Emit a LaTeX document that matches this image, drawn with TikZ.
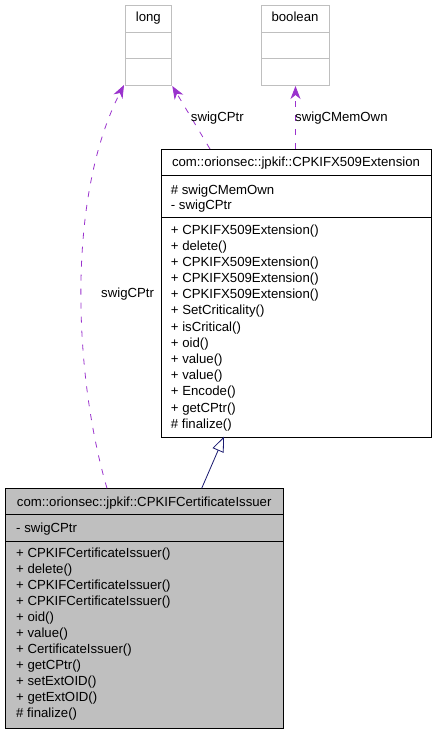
\documentclass[tikz,border=0pt]{standalone}
\usepackage{fontspec}
\setmainfont{Liberation Sans}
\usetikzlibrary{arrows.meta}
\definecolor{usecol}{HTML}{9A32CD}
\definecolor{inhcol}{HTML}{191970}
\definecolor{lightbd}{HTML}{BFBFBF}
\definecolor{issfill}{HTML}{BFBFBF}
\begin{document}
\begin{tikzpicture}[x=1pt,y=-1pt,
  every node/.style={font=\fontsize{13.2}{16}\selectfont},
  txt/.style={inner sep=0pt,anchor=base west},
  ctxt/.style={inner sep=0pt,anchor=base},
  boxa/.style={draw=lightbd,line width=1pt,anchor=north west,inner sep=0pt},
  boxb/.style={draw=black,line width=1pt,anchor=north west,inner sep=0pt},
  usage/.style={draw=usecol,line width=0.8pt,dash pattern=on 6pt off 8pt,
    -{Stealth[length=13pt,width=10pt,inset=4pt,fill=usecol]}},
  inherit/.style={draw=inhcol,line width=0.8pt,
    -{Triangle[open,length=15pt,width=12pt,fill=white]}}
]
\useasboundingbox (0,0) rectangle (435,733);
\fill[white] (0,0) rectangle (435,733);

% long
\node[boxa,minimum width=46pt,minimum height=79.7pt] (long) at (125.3,5.3) {};
\draw[lightbd,line width=1pt] (125.3,32.3) -- (171.3,32.3) (125.3,58.3) -- (171.3,58.3);
\node[ctxt] (longt) at (148.3,21.7) {long};

% boolean
\node[boxa,minimum width=67.4pt,minimum height=79.7pt] (bool) at (261.3,5.3) {};
\draw[lightbd,line width=1pt] (261.3,32.3) -- (328.7,32.3) (261.3,58.3) -- (328.7,58.3);
\node[ctxt] (boolt) at (295,21.7) {boolean};

% extension
\node[boxb,minimum width=270pt,minimum height=287.7pt] (ext) at (161,149) {};
\draw[line width=1pt] (161,175) -- (431,175) (161,217) -- (431,217);
\node[ctxt] (extt) at (296,166) {com::orionsec::jpkif::CPKIFX509Extension};
\node[txt] (ea1) at (170.7,194) {\# swigCMemOwn};
\node[txt] (ea2) at (170.7,209.3) {- swigCPtr};
\foreach \t [count=\i from 0] in {+ CPKIFX509Extension(),+ delete(),+ CPKIFX509Extension(),+ CPKIFX509Extension(),+ CPKIFX509Extension(),+ SetCriticality(),+ isCritical(),+ oid(),+ value(),+ value(),+ Encode(),+ getCPtr(),\# finalize()}
  \node[txt] (em\i) at (170.7,234+16.19*\i) {\t};

% issuer
\node[boxb,fill=issfill,minimum width=278.3pt,minimum height=240pt] (iss) at (5,488.3) {};
\draw[line width=1pt] (5,514) -- (283.3,514) (5,541) -- (283.3,541);
\node[ctxt] (isst) at (144.2,506.7) {com::orionsec::jpkif::CPKIFCertificateIssuer};
\node[txt] (ia1) at (16,532.7) {- swigCPtr};
\foreach \t [count=\i from 0] in {+ CPKIFCertificateIssuer(),+ delete(),+ CPKIFCertificateIssuer(),+ CPKIFCertificateIssuer(),+ oid(),+ value(),+ CertificateIssuer(),+ getCPtr(),+ setExtOID(),+ getExtOID(),\# finalize()}
  \node[txt] (im\i) at (16,557.3+16*\i) {\t};

% connectors
\coordinate (issL) at (107,488.3);
\coordinate (issR) at (201.7,488.3);
\coordinate (extA) at (210,149);
\coordinate (extB) at (224,436.7);
\coordinate (longL) at (124,85);

\draw[usage] (issL) .. controls (75,380) and (65,200) .. (longL);
\draw[usage] (extA) -- (long.south east);
\draw[usage] (bool.south |- ext.north) -- (bool.south);
\draw[inherit] (issR) -- (extB);

% labels
\node[txt] (l1) at (101,297.3) {swigCPtr};
\node[txt] (l2) at (190.7,121.7) {swigCPtr};
\node[txt] (l3) at (295,121.7) {swigCMemOwn};
\end{tikzpicture}
\end{document}
